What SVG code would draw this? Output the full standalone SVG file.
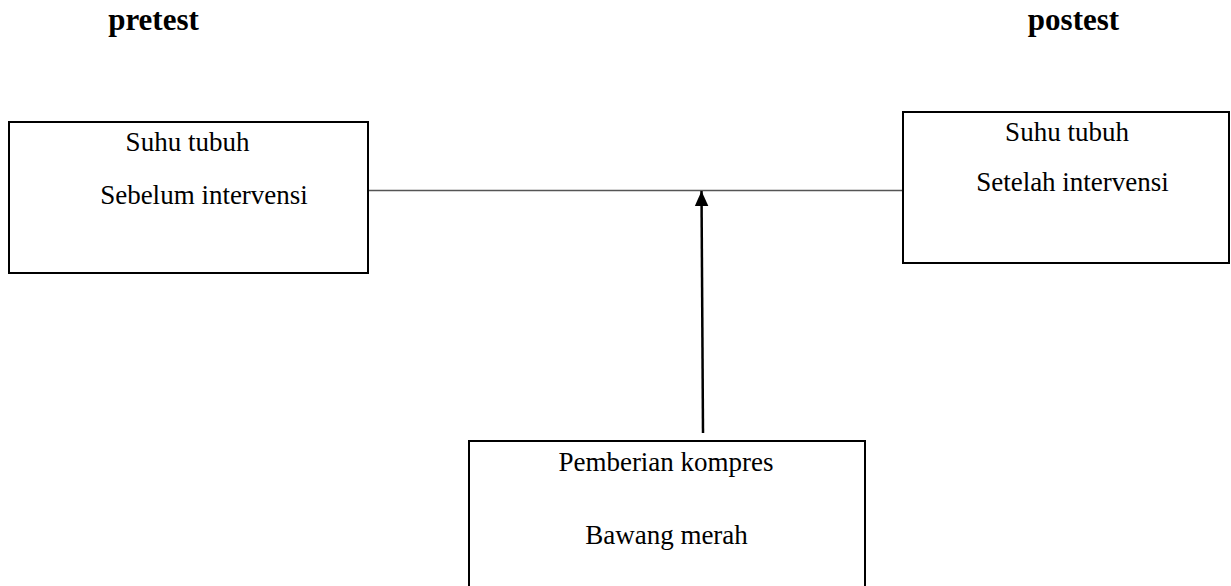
<svg xmlns="http://www.w3.org/2000/svg" width="1231" height="586" viewBox="0 0 1231 586">
<defs>
<style>
.box{fill:#fff;stroke:#000;stroke-width:2}
.t{font-family:"Liberation Serif","Times New Roman",serif;font-size:27px;fill:#000;text-anchor:middle}
.h{font-family:"Liberation Serif","Times New Roman",serif;font-size:31px;font-weight:bold;fill:#000;text-anchor:middle}
</style>
<marker id="ah" viewBox="0 0 10 10" refX="10" refY="5" markerWidth="6" markerHeight="6" markerUnits="strokeWidth" orient="auto">
<path d="M0,0.5 L10,5 L0,9.5 z" fill="#000"/>
</marker>
</defs>
<rect width="1231" height="586" fill="#fff"/>
<text class="h" x="153.5" y="30">pretest</text>
<text class="h" x="1073.5" y="30">postest</text>
<g id="connectors">
<line x1="369" y1="190.5" x2="903" y2="190.5" stroke="#555" stroke-width="1.5"/>
<line x1="703" y1="433" x2="701.5" y2="191" stroke="#000" stroke-width="2.5" marker-end="url(#ah)"/>
</g>
<g id="node-pre">
<rect class="box" x="9" y="122" width="359" height="151"/>
<text class="t" x="187.5" y="151">Suhu tubuh</text>
<text class="t" x="204" y="204">Sebelum intervensi</text>
</g>
<g id="node-post">
<rect class="box" x="903" y="112" width="326" height="151"/>
<text class="t" x="1067" y="141">Suhu tubuh</text>
<text class="t" x="1072.5" y="191">Setelah intervensi</text>
</g>
<g id="node-intervention">
<rect class="box" x="469" y="441" width="396" height="160"/>
<text class="t" x="666" y="471">Pemberian kompres</text>
<text class="t" x="666.5" y="544">Bawang merah</text>
</g>
</svg>
